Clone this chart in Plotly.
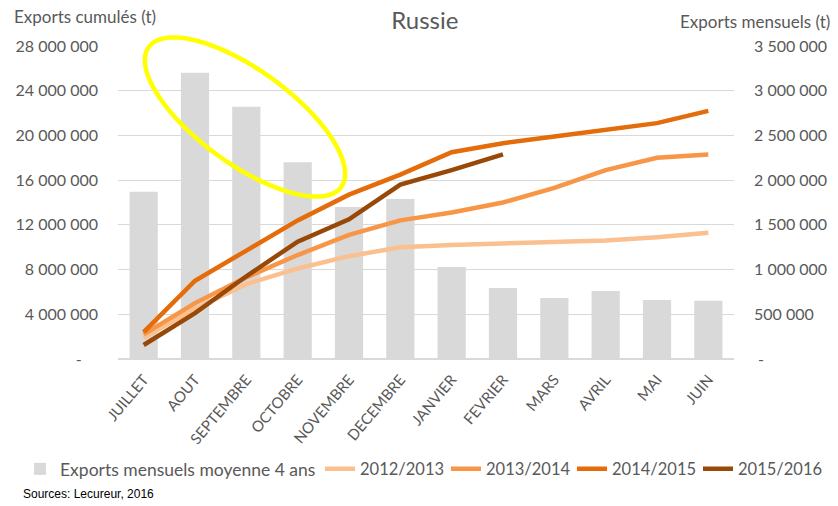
import numpy as np
import plotly.graph_objects as go

months = ["JUILLET", "AOUT", "SEPTEMBRE", "OCTOBRE", "NOVEMBRE", "DECEMBRE",
          "JANVIER", "FEVRIER", "MARS", "AVRIL", "MAI", "JUIN"]

# Monthly exports, 4-year average (t) - right axis
mensuels_moy = [1870000, 3200000, 2820000, 2200000, 1700000, 1790000,
                1030000, 795000, 683000, 760000, 660000, 650000]

# Cumulative exports (t) - left axis
cum_2012_2013 = [1900000, 4500000, 6700000, 8100000, 9200000, 10000000,
                 10200000, 10300000, 10400000, 10600000, 10900000, 11300000]
cum_2013_2014 = [2200000, 5000000, 7300000, 9300000, 11100000, 12400000,
                 13100000, 14000000, 15300000, 16900000, 18000000, 18300000]
cum_2014_2015 = [2400000, 7000000, 9700000, 12400000, 14700000, 16500000,
                 18500000, 19300000, 19900000, 20500000, 21100000, 22200000]
cum_2015_2016 = [1250000, 4100000, 7400000, 10500000, 12500000, 15600000,
                 16900000, 18300000]

left_ticks = [0, 4000000, 8000000, 12000000, 16000000, 20000000, 24000000, 28000000]
left_ticktext = ["-    ", "4 000 000", "8 000 000", "12 000 000", "16 000 000",
                 "20 000 000", "24 000 000", "28 000 000"]
right_ticks = [0, 500000, 1000000, 1500000, 2000000, 2500000, 3000000, 3500000]
right_ticktext = [" -", "500 000", "1 000 000", "1 500 000", "2 000 000",
                  "2 500 000", "3 000 000", "3 500 000"]

FONT = "Lato, Roboto, sans-serif"
GREY_TXT = "#595959"

L, R, T, B = 118, 104, 46, 147
W, H = 838, 506
pw, ph = W - L - R, H - T - B
LEG_Y = -(469 - (H - B)) / ph

fig = go.Figure()
fig.add_trace(go.Bar(x=months, y=mensuels_moy, name="Exports mensuels moyenne 4 ans",
                     marker=dict(color="#D9D9D9", line=dict(width=0)), yaxis="y",
                     legend="legend"))
series = [("2012/2013", cum_2012_2013, "#FAC090", "legend2"),
          ("2013/2014", cum_2013_2014, "#F79646", "legend3"),
          ("2014/2015", cum_2014_2015, "#E46C0A", "legend4"),
          ("2015/2016", cum_2015_2016, "#984807", "legend5")]
for name, vals, col, leg in series:
    fig.add_trace(go.Scatter(x=months[:len(vals)], y=vals, name=name, mode="lines",
                             line=dict(color=col, width=4.5),
                             yaxis="y2", legend=leg))

# Highlight ellipse (annotation), in pixel space then converted to paper coords
cx, cy, a, b, th = 245, 117, 119, 47, np.deg2rad(36)
t = np.linspace(0, 2 * np.pi, 90)
px = cx + a * np.cos(t) * np.cos(th) - b * np.sin(t) * np.sin(th)
py = cy + a * np.cos(t) * np.sin(th) + b * np.sin(t) * np.cos(th)
xp = (px - L) / pw
yp = (H - B - py) / ph
path = "M " + " L ".join(f"{x:.4f},{y:.4f}" for x, y in zip(xp, yp)) + " Z"
fig.add_shape(type="path", path=path, xref="paper", yref="paper",
              line=dict(color="#FFFF00", width=4.5))


def leg(x_px, size):
    return dict(orientation="h", x=x_px / W, xanchor="left", xref="container",
                y=LEG_Y, yanchor="middle", bgcolor="rgba(0,0,0,0)",
                font=dict(size=size, color=GREY_TXT, family=FONT), itemwidth=30)


fig.update_layout(
    width=W, height=H,
    margin=dict(l=L, r=R, t=T, b=B, autoexpand=False),
    paper_bgcolor="white", plot_bgcolor="white",
    font=dict(family=FONT, color=GREY_TXT, size=14),
    title=dict(text="Russie", x=0.507, xanchor="center", y=0.96, yanchor="middle",
               font=dict(size=24, color=GREY_TXT, family=FONT)),
    bargap=0.45,
    showlegend=True,
    legend=leg(20, 17.5),
    legend2=leg(320, 16.5),
    legend3=leg(446, 16.5),
    legend4=leg(572, 16.5),
    legend5=leg(698, 16.5),
    xaxis=dict(type="category", tickangle=-50, showgrid=False,
               showline=False, ticks="", tickfont=dict(size=15, color=GREY_TXT),
               automargin=False, ticklabelstandoff=8, domain=[0, 1]),
    yaxis=dict(side="right", range=[0, 3500000], tickvals=right_ticks,
               ticktext=right_ticktext, showgrid=True, gridcolor="#D9D9D9",
               gridwidth=1, zeroline=True, zerolinecolor="#D9D9D9", automargin=False,
               tickfont=dict(size=16, color=GREY_TXT), ticklabelstandoff=19),
    yaxis2=dict(side="left", overlaying="y", range=[0, 28000000], tickvals=left_ticks,
                ticktext=left_ticktext, showgrid=False, zeroline=False, automargin=False,
                tickfont=dict(size=16, color=GREY_TXT), ticklabelstandoff=19),
    annotations=[
        dict(text="Exports cumulés (t)", xref="paper", yref="paper",
             x=(12 - L) / pw, xanchor="left", y=(H - B - 16) / ph, yanchor="middle",
             showarrow=False, font=dict(size=17, color=GREY_TXT, family=FONT)),
        dict(text="Exports mensuels (t)", xref="paper", yref="paper",
             x=(832 - L) / pw, xanchor="right", y=(H - B - 22) / ph, yanchor="middle",
             showarrow=False, font=dict(size=17, color=GREY_TXT, family=FONT)),
        dict(text="Sources: Lecureur, 2016", xref="paper", yref="paper",
             x=(21 - L) / pw, xanchor="left", y=(H - B - 494) / ph, yanchor="middle",
             showarrow=False, font=dict(size=12, color="#000000",
                                        family="Liberation Sans, Arial")),
    ],
)

fig.write_html("out.html", config={"displayModeBar": False},
               post_script="document.body.style.margin='0px';")
